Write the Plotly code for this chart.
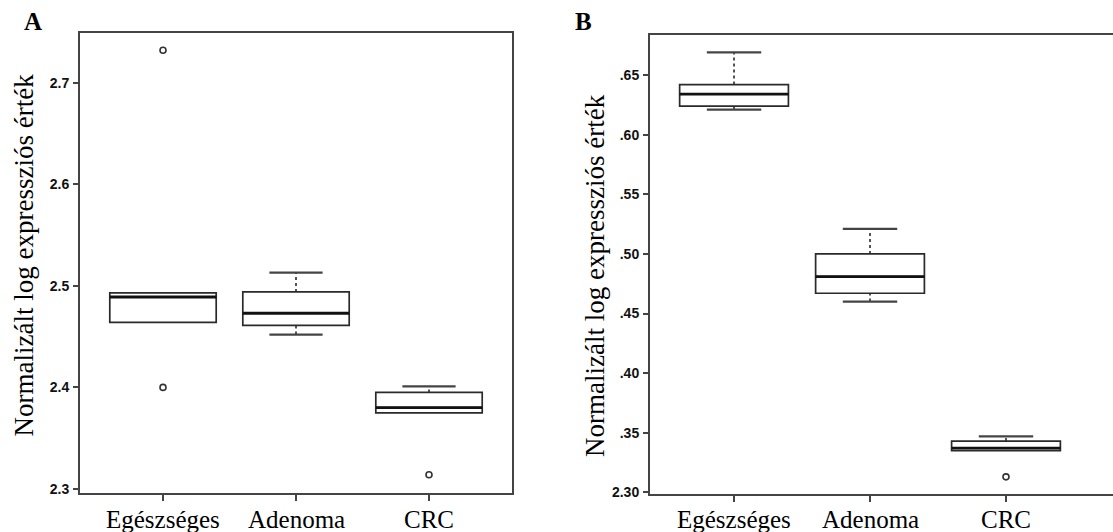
import plotly.graph_objects as go

W, H = 1113, 532

categories = ["Egészséges", "Adenoma", "CRC"]

# Panel A
a_q1 = [2.464, 2.461, 2.375]
a_median = [2.489, 2.473, 2.380]
a_q3 = [2.493, 2.494, 2.395]
a_low = [2.464, 2.452, 2.375]
a_high = [2.493, 2.513, 2.401]
a_out_cat = [0, 0, 2]
a_out_val = [2.732, 2.400, 2.314]
a_ticks = [2.3, 2.4, 2.5, 2.6, 2.7]
a_ticktext = ["2.3", "2.4", "2.5", "2.6", "2.7"]

# Panel B
b_q1 = [2.624, 2.467, 2.335]
b_median = [2.634, 2.481, 2.337]
b_q3 = [2.642, 2.500, 2.343]
b_low = [2.621, 2.460, 2.335]
b_high = [2.669, 2.521, 2.347]
b_out_cat = [2]
b_out_val = [2.313]
b_ticks = [2.30, 2.35, 2.40, 2.45, 2.50, 2.55, 2.60, 2.65]
b_ticktext = ["2.30", ".35", ".40", ".45", ".50", ".55", ".60", ".65"]

y_title = "Normalizált log expressziós érték"

BOX_W = 0.8
CAP = 0.2
LINE = "#2a2a2a"
FRAME = "#444444"

fig = go.Figure()


def add_panel(xa, ya, q1, med, q3, lo, hi, out_c, out_v):
    xs = list(range(len(categories)))
    fig.add_trace(go.Box(
        x=xs, q1=q1, median=med, q3=q3, lowerfence=q1, upperfence=q3,
        width=BOX_W, fillcolor="white", line=dict(color=LINE, width=1.7),
        boxpoints=False, xaxis=xa, yaxis=ya, showlegend=False, hoverinfo="skip"))
    # thick median
    mx, my = [], []
    for i in xs:
        mx += [i - BOX_W / 2, i + BOX_W / 2, None]
        my += [med[i], med[i], None]
    fig.add_trace(go.Scatter(x=mx, y=my, mode="lines", line=dict(color="#111111", width=2.8),
                             xaxis=xa, yaxis=ya, showlegend=False, hoverinfo="skip"))
    # dotted whiskers
    wx, wy, cx, cy = [], [], [], []
    for i in xs:
        if hi[i] > q3[i]:
            wx += [i, i, None]
            wy += [q3[i], hi[i], None]
            cx += [i - CAP, i + CAP, None]
            cy += [hi[i], hi[i], None]
        if lo[i] < q1[i]:
            wx += [i, i, None]
            wy += [lo[i], q1[i], None]
            cx += [i - CAP, i + CAP, None]
            cy += [lo[i], lo[i], None]
    fig.add_trace(go.Scatter(x=wx, y=wy, mode="lines", line=dict(color=LINE, width=1.6, dash="3px,3px"),
                             xaxis=xa, yaxis=ya, showlegend=False, hoverinfo="skip"))
    fig.add_trace(go.Scatter(x=cx, y=cy, mode="lines", line=dict(color="#444444", width=2.2),
                             xaxis=xa, yaxis=ya, showlegend=False, hoverinfo="skip"))
    fig.add_trace(go.Scatter(x=out_c, y=out_v, mode="markers",
                             marker=dict(symbol="circle-open", size=6, color="#333333", line=dict(width=1.6)),
                             xaxis=xa, yaxis=ya, showlegend=False, hoverinfo="skip"))


add_panel("x", "y", a_q1, a_median, a_q3, a_low, a_high, a_out_cat, a_out_val)
add_panel("x2", "y2", b_q1, b_median, b_q3, b_low, b_high, b_out_cat, b_out_val)

xcommon = dict(tickvals=[0, 1, 2], ticktext=categories, showticklabels=False, showgrid=False,
               zeroline=False, showline=True, linecolor=FRAME, linewidth=2, ticks="outside", ticklen=6,
               tickcolor=FRAME, tickwidth=1.6, automargin=False)
ycommon = dict(showgrid=False, zeroline=False, showline=True, linecolor=FRAME, linewidth=2,
               ticks="outside", ticklen=5, tickcolor=FRAME, tickwidth=1.6, ticklabelstandoff=1,
               automargin=False,
               tickfont=dict(family="Liberation Sans", size=14, color="#111111", weight="bold"))

annotations = [
    dict(text=y_title, x=23 / W, y=1 - 255.5 / H, xref="paper", yref="paper", textangle=-90,
         showarrow=False, xanchor="center", yanchor="middle",
         font=dict(family="Liberation Serif", size=27, color="black")),
    dict(text=y_title, x=594.5 / W, y=1 - 275.5 / H, xref="paper", yref="paper", textangle=-90,
         showarrow=False, xanchor="center", yanchor="middle",
         font=dict(family="Liberation Serif", size=27, color="black")),
    dict(text="<b>A</b>", x=33 / W, y=1 - 21.5 / H, xref="paper", yref="paper", showarrow=False,
         xanchor="center", yanchor="middle", font=dict(family="Liberation Serif", size=25, color="black")),
    dict(text="<b>B</b>", x=583 / W, y=1 - 21.5 / H, xref="paper", yref="paper", showarrow=False,
         xanchor="center", yanchor="middle", font=dict(family="Liberation Serif", size=25, color="black")),
]
for xr in ("x", "x2"):
    for i, c in enumerate(categories):
        annotations.append(dict(text=c, x=i, y=1 - 504 / H, xref=xr, yref="paper", showarrow=False,
                                xanchor="center", yanchor="top",
                                font=dict(family="Liberation Serif", size=25, color="black")))

fig.update_layout(
    width=W, height=H, margin=dict(l=0, r=0, t=0, b=0, autoexpand=False),
    paper_bgcolor="white", plot_bgcolor="white",
    xaxis=dict(domain=[80 / W, 512 / W], range=[-0.624, 2.624], mirror=True, anchor="y", **xcommon),
    yaxis=dict(domain=[1 - 493 / H, 1 - 33 / H], range=[2.296, 2.749], mirror=True, anchor="x",
               tickvals=a_ticks, ticktext=a_ticktext, **ycommon),
    xaxis2=dict(domain=[650 / W, 1.0], range=[-0.618, 2.787], mirror=True, anchor="y2", **xcommon),
    yaxis2=dict(domain=[1 - 494 / H, 1 - 35 / H], range=[2.2986, 2.6836], mirror=False, anchor="x2",
                tickvals=b_ticks, ticktext=b_ticktext, **ycommon),
    annotations=annotations,
)

fig.write_html("out.html")
